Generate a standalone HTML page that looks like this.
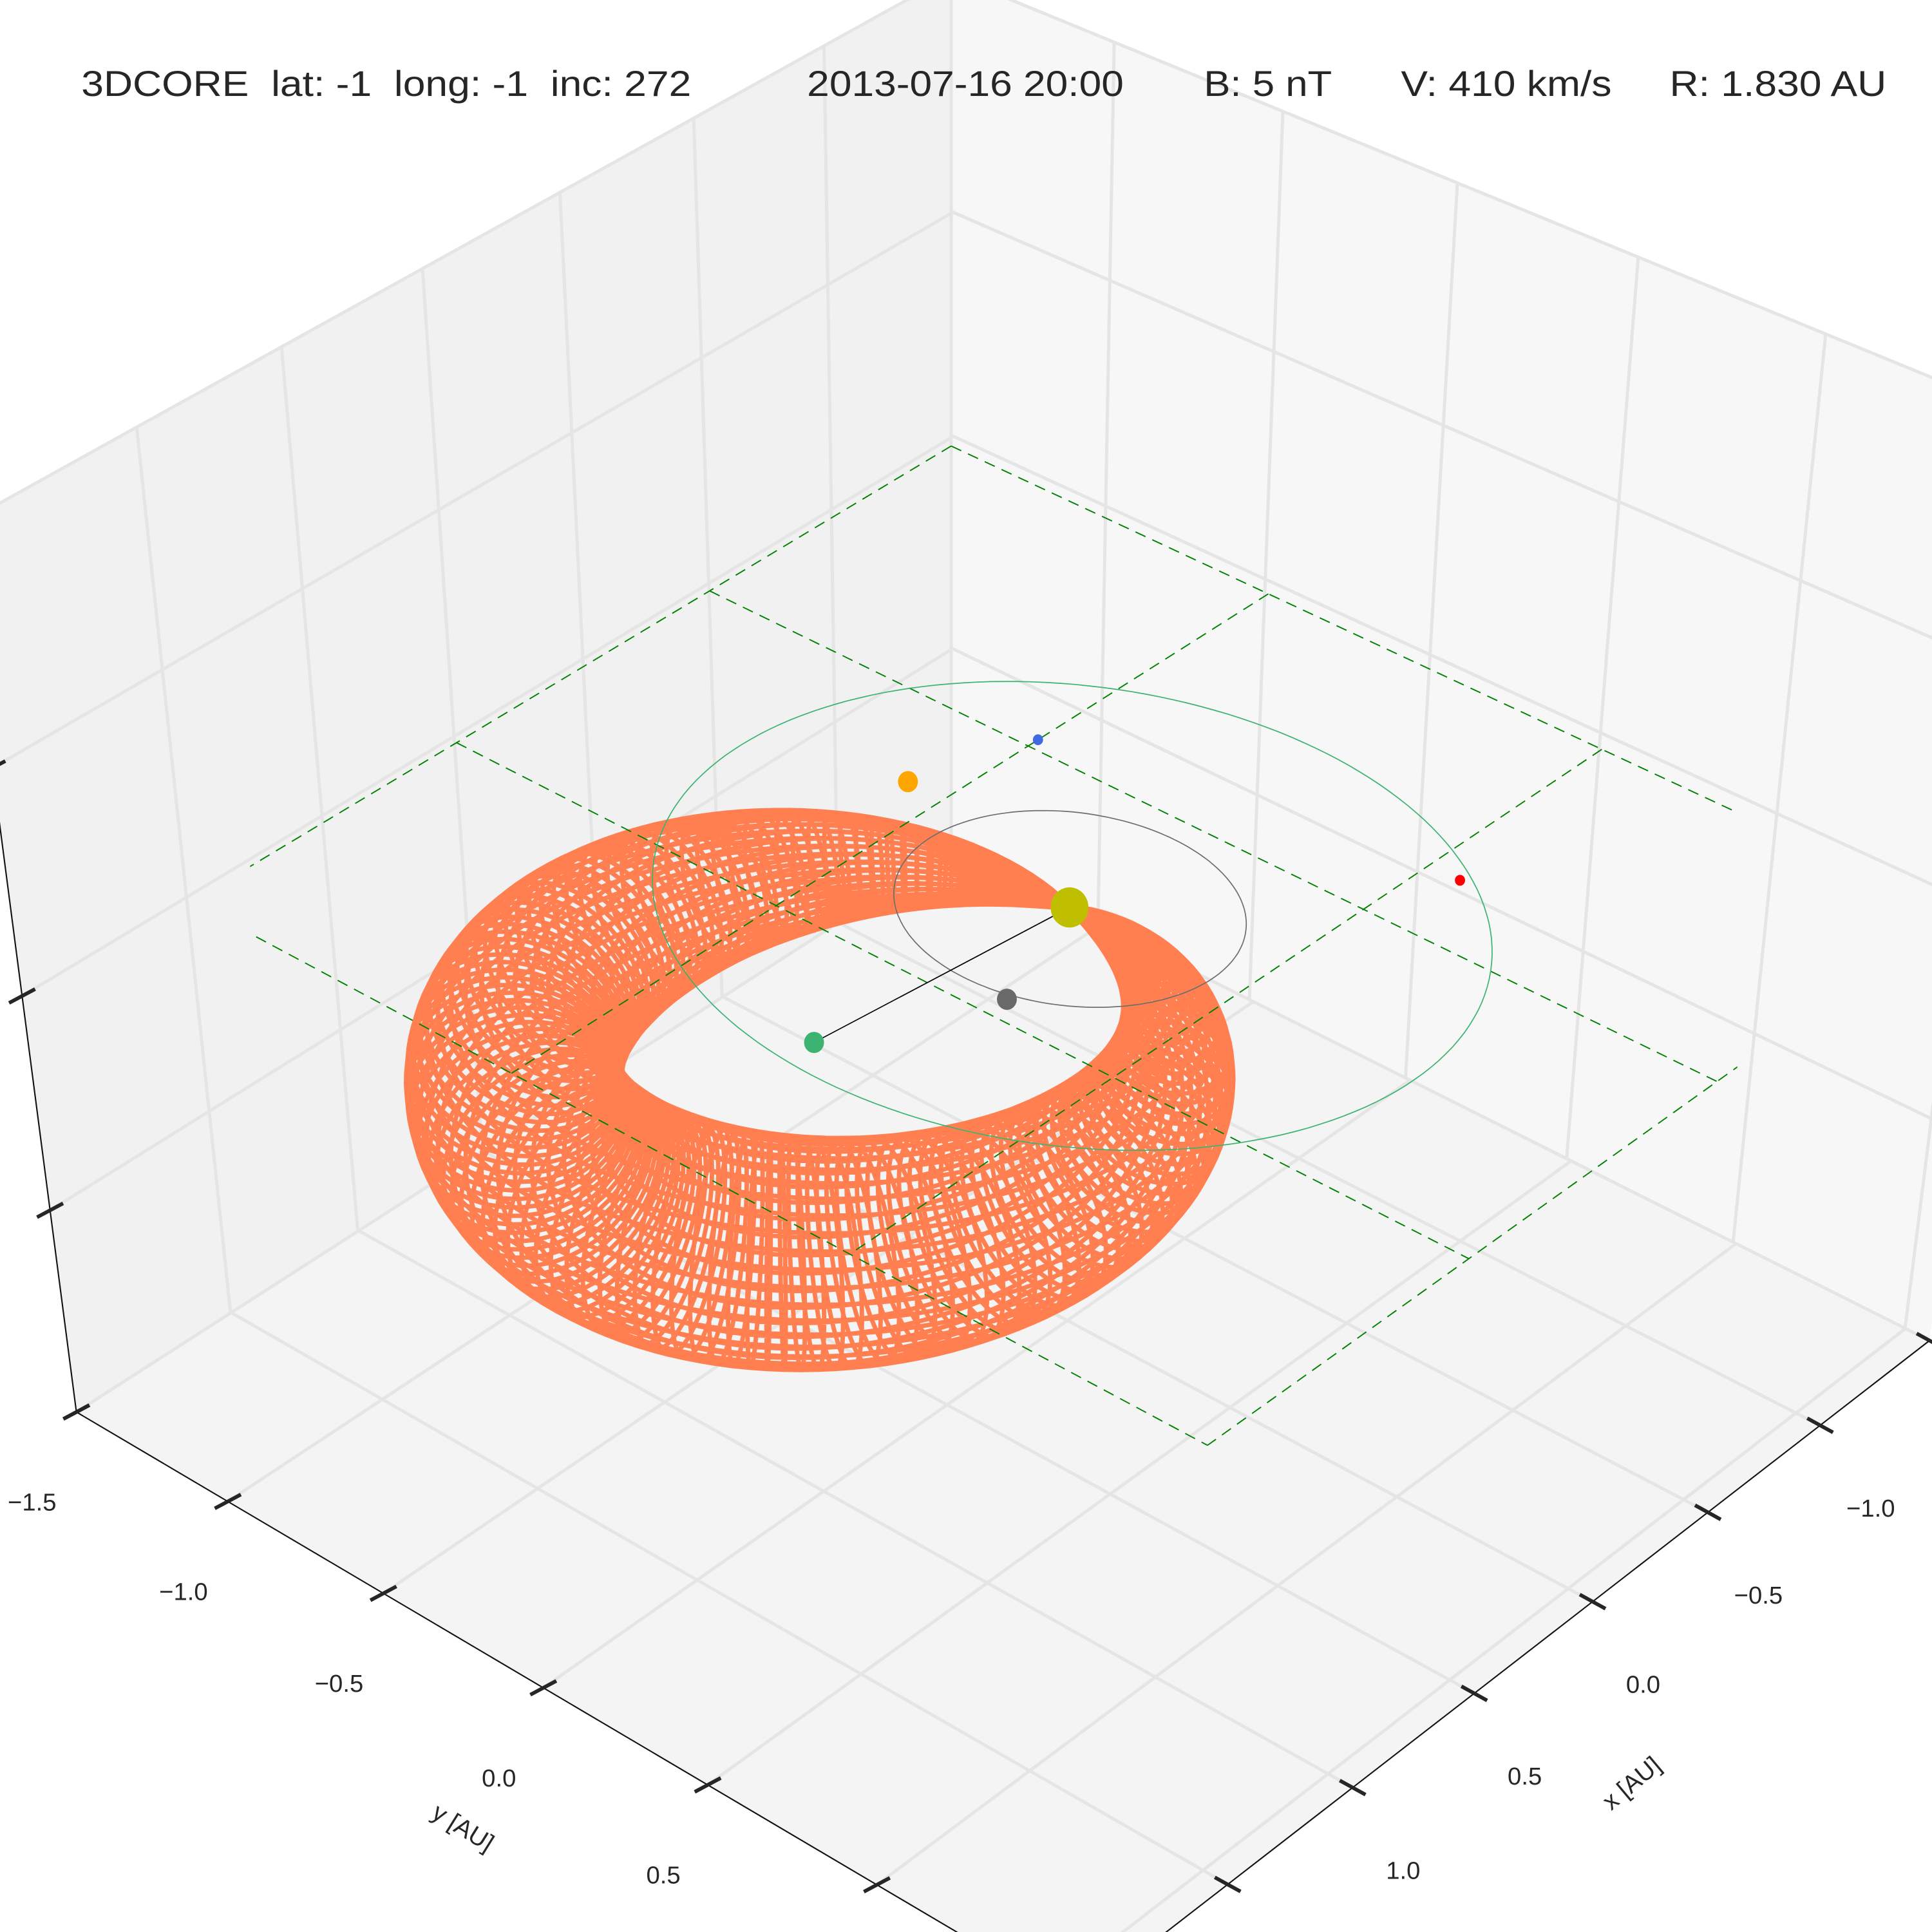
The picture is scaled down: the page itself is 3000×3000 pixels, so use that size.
<!DOCTYPE html>
<html><head><meta charset="utf-8">
<style>
html,body{margin:0;padding:0;background:#fff;width:3000px;height:3000px;overflow:hidden;}
svg{display:block;}
text{font-family:"Liberation Sans",Arial,sans-serif;fill:#262626;}
</style></head>
<body>
<svg id="chart" xmlns="http://www.w3.org/2000/svg" width="3000" height="3000" viewBox="0 0 1568 1568">
  <defs>
    <clipPath id="dashClip"><rect x="203" y="0" width="1207" height="1568"/></clipPath>
  </defs>
  <rect x="0" y="0" width="1568" height="1568" fill="#ffffff"/>
  <g id="panes"></g>
  <g id="grid"></g>
  <g id="axes"></g>
  <g id="torus"></g>
  <g id="dashed" clip-path="url(#dashClip)"></g>
  <g id="orbits"></g>
  <g id="bodies"></g>
  <g font-size="29" style="white-space:pre">
    <text x="66" y="78" textLength="495" lengthAdjust="spacingAndGlyphs" xml:space="preserve">3DCORE  lat: -1  long: -1  inc: 272</text>
    <text x="655" y="78" textLength="257" lengthAdjust="spacingAndGlyphs">2013-07-16 20:00</text>
    <text x="977" y="78" textLength="104" lengthAdjust="spacingAndGlyphs">B: 5 nT</text>
    <text x="1137" y="78" textLength="171" lengthAdjust="spacingAndGlyphs">V: 410 km/s</text>
    <text x="1355" y="78" textLength="176" lengthAdjust="spacingAndGlyphs">R: 1.830 AU</text>
  </g>
  <text x="376" y="1490" font-size="20" text-anchor="middle" transform="rotate(32 376 1483)">y [AU]</text>
  <text x="1324" y="1454" font-size="20" text-anchor="middle" transform="rotate(-40 1324 1447)">x [AU]</text>
  <g id="ticks"></g>
</svg>
<script>
// ---- data ----
const xTicks = [-1.5, -1.0, -0.5, 0.0, 0.5, 1.0, 1.5];
const yTicks = [-1.5, -1.0, -0.5, 0.0, 0.5, 1.0, 1.5];
const xTickLabels = ['\u22121.5', '\u22121.0', '\u22120.5', '0.0', '0.5', '1.0', '1.5'];
const yTickLabels = ['\u22121.5', '\u22121.0', '\u22120.5', '0.0', '0.5', '1.0', '1.5'];
const zLevels = [0, 1, 2, 3];
const bodyNames = ['sun', 'mercury', 'venus', 'earth', 'stereo-a', 'stereo-b'];
const bodyX = [0, 0.42, -0.16, 0.89, -0.54, -0.77];
const bodyY = [0, 0.13, -0.61, -0.08, -0.50, 0.59];
const orbitRadii = [0.42, 1.0];
const dashLines = [-1.5, -0.5, 0.5, 1.5];
const ropeApex = 1.75;
const ropeHalfWidth = 0.70;
const ropeRadius = 0.27;

// ---- styles ----
const bodyColors = ['#bfbf00', '#696969', '#ffa500', '#3cb371', '#4169e1', '#ff0000'];
const bodySizes = [16.3, 8.6, 8.6, 8.6, 4.4, 4.4];
const orbitColors = ['#6e6e6e', '#3cb371'];

const NS = 'http://www.w3.org/2000/svg';
function mk(tag, attrs, parent) {
  const el = document.createElementNS(NS, tag);
  for (const k in attrs) el.setAttribute(k, attrs[k]);
  parent.appendChild(el);
  return el;
}
function quad(P00, P10, P01, P11) {
  const sx = P00[0] - P10[0] + P11[0] - P01[0], sy = P00[1] - P10[1] + P11[1] - P01[1];
  const dx1 = P10[0] - P11[0], dy1 = P10[1] - P11[1], dx2 = P01[0] - P11[0], dy2 = P01[1] - P11[1];
  const den = dx1 * dy2 - dx2 * dy1;
  const g = (sx * dy2 - dx2 * sy) / den, h = (dx1 * sy - sx * dy1) / den;
  const a = P10[0] - P00[0] + g * P10[0], b = P01[0] - P00[0] + h * P01[0], c = P00[0];
  const d = P10[1] - P00[1] + g * P10[1], e = P01[1] - P00[1] + h * P01[1], f = P00[1];
  return (u, v) => { const w = g * u + h * v + 1; return [(a * u + b * v + c) / w, (d * u + e * v + f) / w]; };
}
const XMIN = -1.5, XMAX = 2.09, YMIN = -1.5, YMAX = 1.57;
const B = [772, 690], Lc = [62, 1146], Rc = [1566, 1088], F = [873, 1625];
const BT = [772, -20], LT = [-32, 426], RT = [1662, 345];
const floorH = quad(B, Lc, Rc, F);
const leftH = quad(B, Lc, BT, LT);
const rightH = quad(B, Rc, BT, RT);
const fx = x => (x - XMIN) / (XMAX - XMIN);
const fy = y => (y - YMIN) / (YMAX - YMIN);
const z0H = quad([772, 362], [155, 732], [1585, 741], [980, 1173]);
const ZS = 300;
function P3(x, y, z) { const p = z0H((x + 1.5) / 3, (y + 1.5) / 3); return [p[0], p[1] - ZS * z]; }
const f2 = p => p[0].toFixed(1) + ',' + p[1].toFixed(1);

const panes = document.getElementById('panes');
let el;
el = mk('polygon', {points: [B, Lc, LT, BT].map(f2).join(' '), fill: '#f1f1f1'}, panes);


el = mk('polygon', {points: [B, Rc, RT, BT].map(f2).join(' '), fill: '#f7f7f7'}, panes);


el = mk('polygon', {points: [B, Lc, F, Rc].map(f2).join(' '), fill: '#f4f4f4'}, panes);



const grid = document.getElementById('grid');
let gd = '';
xTicks.forEach(x => { const u = fx(x); gd += 'M' + f2(floorH(u, 0)) + 'L' + f2(floorH(u, 1)); gd += 'M' + f2(leftH(u, 0)) + 'L' + f2(leftH(u, 1)); });
yTicks.forEach(y => { const v = fy(y); gd += 'M' + f2(floorH(0, v)) + 'L' + f2(floorH(1, v)); gd += 'M' + f2(rightH(v, 0)) + 'L' + f2(rightH(v, 1)); });
[1, 2, 3, 4].forEach(k => { const v = k / 4; gd += 'M' + f2(leftH(0, v)) + 'L' + f2(leftH(1, v)); gd += 'M' + f2(rightH(0, v)) + 'L' + f2(rightH(1, v)); });
gd += 'M' + f2(B) + 'L' + f2(BT);
el = mk('path', {d: gd, stroke: '#e5e5e5', 'stroke-width': 2.6, fill: 'none'}, grid);



const axes = document.getElementById('axes');
function extend(p, q, t) { return [p[0] + (q[0] - p[0]) * t, p[1] + (q[1] - p[1]) * t]; }
el = mk('line', {x1: Lc[0], y1: Lc[1], x2: extend(Lc, F, 1.1)[0], y2: extend(Lc, F, 1.1)[1], stroke: '#111', 'stroke-width': 1.1}, axes);


el = mk('line', {x1: Rc[0], y1: Rc[1], x2: extend(Rc, F, 1.1)[0], y2: extend(Rc, F, 1.1)[1], stroke: '#111', 'stroke-width': 1.1}, axes);


el = mk('line', {x1: Lc[0], y1: Lc[1], x2: LT[0], y2: LT[1], stroke: '#111', 'stroke-width': 1.1}, axes);



const ticks = document.getElementById('ticks');
function tick(p, dir, name) {
  const t = mk('line', {x1: p[0] - dir[0] * 12, y1: p[1] - dir[1] * 12, x2: p[0] + dir[0] * 12, y2: p[1] + dir[1] * 12, stroke: '#262626', 'stroke-width': 3}, ticks);
  
  
}
yTicks.forEach((y, i) => {
  const p = floorH(1, fy(y));
  tick(p, [0.88, -0.47], 'y-tick');
  const t = mk('text', {x: p[0] - 36, y: p[1] + 80, 'font-size': 20, 'text-anchor': 'middle'}, ticks);
  t.textContent = yTickLabels[i];
  
  
});
xTicks.forEach((x, i) => {
  const p = floorH(fx(x), 1);
  tick(p, [0.87, 0.48], 'x-tick');
  const t = mk('text', {x: p[0] + 41, y: p[1] + 74, 'font-size': 20, 'text-anchor': 'middle'}, ticks);
  t.textContent = xTickLabels[i];
  
  
});
zLevels.forEach(k => { tick(leftH(1, k / 4), [0.88, -0.47], 'z-tick'); });

// flux rope torus (dense wireframe)
const torus = document.getElementById('torus');
const NT = 150, NP = 40;
const ring = [];
for (let i = 0; i <= NT; i++) {
  const p = i / NT, th = Math.PI + 2 * Math.PI * p;
  const cx = ropeApex / 2 + ropeApex / 2 * Math.cos(th), cy = ropeHalfWidth * Math.sin(th);
  const tx = -ropeApex / 2 * Math.sin(th), ty = ropeHalfWidth * Math.cos(th);
  const L = Math.hypot(tx, ty), nx = ty / L, ny = -tx / L;
  const r = ropeRadius * Math.pow(Math.sin(Math.PI * p), 0.8);
  const pts = [];
  for (let j = 0; j < NP; j++) {
    const ph = 2 * Math.PI * j / NP;
    pts.push(P3(cx + r * Math.cos(ph) * nx, cy + r * Math.cos(ph) * ny, r * Math.sin(ph)));
  }
  ring.push(pts);
}
let td = '';
ring.forEach(pts => { td += 'M' + pts.map(f2).join('L') + 'Z'; });
for (let j = 0; j < NP; j++) { td += 'M' + ring.map(pts => f2(pts[j])).join('L'); }
el = mk('path', {d: td, stroke: '#ff7f50', 'stroke-width': 3.6, fill: 'none', 'stroke-linejoin': 'round'}, torus);



const dashed = document.getElementById('dashed');
dashLines.forEach(c => {
  const a = P3(c, -1.5, 0), b = P3(c, 1.5, 0);
  const l1 = mk('line', {x1: a[0], y1: a[1], x2: b[0], y2: b[1], stroke: '#008000', 'stroke-width': 1, 'stroke-dasharray': '9 6'}, dashed);
  
  
  const a2 = P3(-1.5, c, 0), b2 = P3(1.5, c, 0);
  const l2 = mk('line', {x1: a2[0], y1: a2[1], x2: b2[0], y2: b2[1], stroke: '#008000', 'stroke-width': 1, 'stroke-dasharray': '9 6'}, dashed);
  
  
});

const orbits = document.getElementById('orbits');
orbitRadii.forEach((r, i) => {
  const pts = [];
  for (let k = 0; k <= 180; k++) { const a = 2 * Math.PI * k / 180; pts.push(P3(r * Math.cos(a), r * Math.sin(a), 0)); }
  const o = mk('path', {d: 'M' + pts.map(f2).join('L'), stroke: orbitColors[i], 'stroke-width': 0.9, fill: 'none'}, orbits);
  
  
});

const bodies = document.getElementById('bodies');
const s0 = P3(bodyX[0], bodyY[0], 0), e0 = P3(bodyX[3], bodyY[3], 0);
el = mk('line', {x1: s0[0], y1: s0[1], x2: e0[0], y2: e0[1], stroke: '#000', 'stroke-width': 0.9}, bodies);


bodyNames.forEach((n, i) => {
  const p = P3(bodyX[i], bodyY[i], 0);
  const c = mk('ellipse', {cx: p[0], cy: p[1], rx: bodySizes[i] * 0.94, ry: bodySizes[i], fill: bodyColors[i]}, bodies);
  
  
});
</script>
</body></html>
